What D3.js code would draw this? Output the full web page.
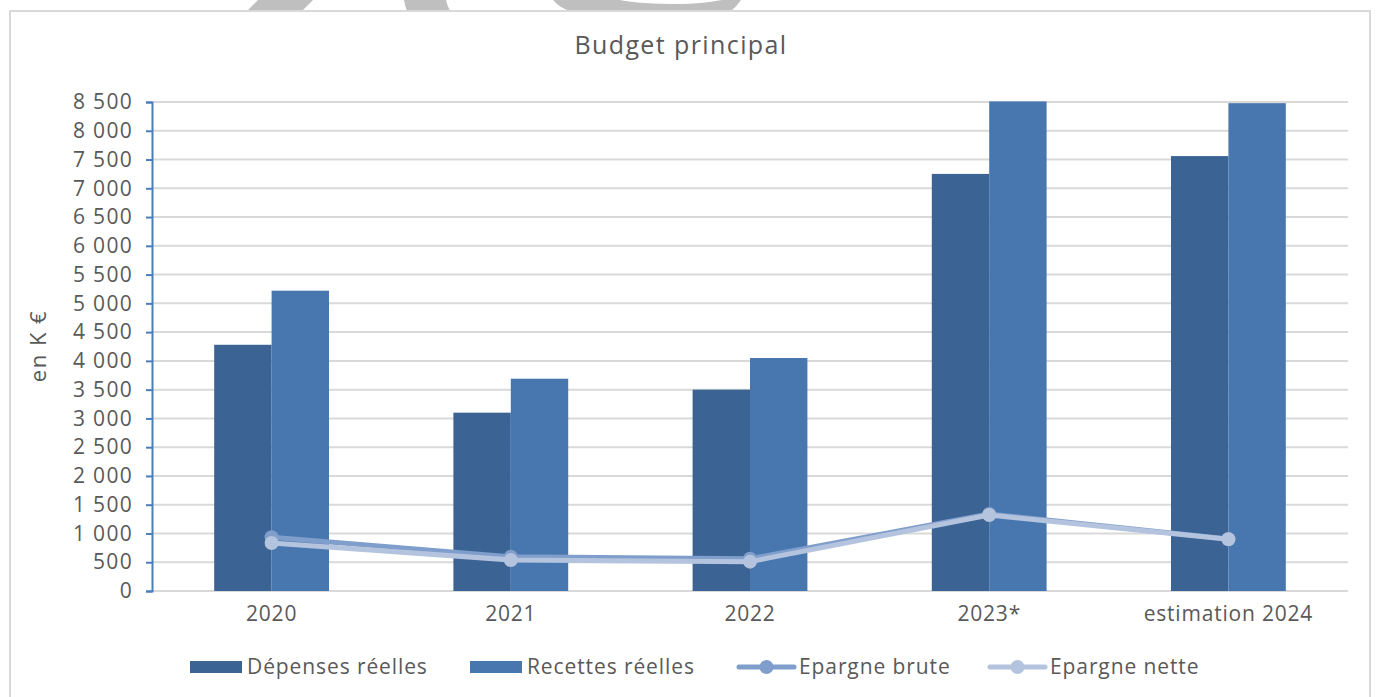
<!DOCTYPE html>
<html>
<head>
<meta charset="utf-8">
<script src="https://cdn.jsdelivr.net/npm/d3@7"></script>
<style>
  body { margin: 0; background: #fff; }
  svg { display: block; font-family: "Open Sans", sans-serif; }
</style>
</head>
<body>
<script>
  // chart data
  var categories = ['2020', '2021', '2022', '2023*', 'estimation 2024'];
  var depenses = [4280, 3100, 3500, 7250, 7560];
  var recettes = [5220, 3690, 4050, 8510, 8480];
  var epargneBrute = [935, 595, 560, 1340, 905];
  var epargneNette = [835, 540, 510, 1320, 900];
  var yTicks = d3.range(0, 8501, 500);

  var barSeries = [
    { name: 'Dépenses réelles', values: depenses, color: '#3b6495' },
    { name: 'Recettes réelles', values: recettes, color: '#4877af' }
  ];
  var lineSeries = [
    { name: 'Epargne brute', values: epargneBrute, color: '#7f9ecb' },
    { name: 'Epargne nette', values: epargneNette, color: '#b4c3de' }
  ];

  function translate(x, y) {
    return 'translate(' + x + ',' + y + ')';
  }

  var W = 1376, H = 697,
      plotLeft = 152, plotRight = 1348, plotTop = 102, plotBottom = 591;

  var fr = d3.formatLocale({ decimal: ',', thousands: ' ', grouping: [3], currency: ['', '€'] });

  var x = d3.scaleBand()
      .domain(categories)
      .range([plotLeft, plotRight])
      .paddingInner(0.52)
      .paddingOuter(0.26);

  var xSub = d3.scaleBand()
      .domain([0, 1])
      .range([0, x.bandwidth()]);

  var y = d3.scaleLinear()
      .domain([0, 8500])
      .range([plotBottom, plotTop]);

  var svg = d3.select('body').append('svg')
      .attr('width', W)
      .attr('height', H);

  // watermark fragments peeking above the frame
  var wm = svg.append('g').attr('fill', '#bfbfbf');
  wm.append('path').attr('d', 'M247,11 L302,11 L313,0 L258,0 Z');
  wm.append('path').attr('d', 'M407,11 L450,11 Q447,5 446,0 L404,0 Q405,6 407,11 Z');
  wm.append('path').attr('d', 'M553,0 Q560,8 570,11 L731,11 Q737,6 741,0 L722,0 Q700,4 680,4 Q640,4 620,0 Z');

  // frame
  svg.append('rect')
    .attr('x', 10).attr('y', 11)
    .attr('width', 1360).attr('height', 700)
    .attr('fill', '#fff')
    .attr('stroke', '#d9d9d9')
    .attr('stroke-width', 2);

  svg.append('text')
    .attr('x', 681).attr('y', 54)
    .attr('text-anchor', 'middle')
    .attr('font-size', 25)
    .attr('letter-spacing', 1.4)
    .attr('fill', '#595959')
    .text('Budget principal');

  // gridlines
  svg.append('g')
    .selectAll('line')
    .data(yTicks)
    .join('line')
      .attr('x1', plotLeft).attr('x2', plotRight)
      .attr('y1', function(d) { return y(d); })
      .attr('y2', function(d) { return y(d); })
      .attr('stroke', '#d9d9d9')
      .attr('stroke-width', 2);

  // y axis
  var yAxis = d3.axisLeft(y)
      .tickValues(yTicks)
      .tickFormat(fr.format(',d'))
      .tickSize(6)
      .tickPadding(13);

  var gy = svg.append('g')
    .attr('transform', translate(plotLeft, 0))
    .call(yAxis);
  gy.select('.domain').attr('stroke', '#4a7ebb').attr('stroke-width', 2);
  gy.selectAll('.tick line').attr('stroke', '#4a7ebb').attr('stroke-width', 2);
  gy.selectAll('.tick text')
    .attr('font-size', 21)
    .attr('letter-spacing', 1.3)
    .attr('fill', '#595959')
    .attr('font-family', '"Open Sans", sans-serif');

  svg.append('text')
    .attr('transform', translate(46, 346) + ' rotate(-90)')
    .attr('text-anchor', 'middle')
    .attr('font-size', 22)
    .attr('letter-spacing', 1.5)
    .attr('fill', '#595959')
    .text('en K €');

  // bars
  barSeries.forEach(function(s, si) {
    svg.append('g')
      .selectAll('rect')
      .data(s.values)
      .join('rect')
        .attr('x', function(d, i) { return x(categories[i]) + xSub(si); })
        .attr('y', function(d) { return y(d); })
        .attr('width', xSub.bandwidth())
        .attr('height', function(d) { return y(0) - y(d); })
        .attr('fill', s.color);
  });

  // x labels
  var xAxis = d3.axisBottom(x).tickSize(0).tickPadding(15);
  var gx = svg.append('g')
    .attr('transform', translate(0, plotBottom))
    .call(xAxis);
  gx.select('.domain').remove();
  gx.selectAll('.tick text')
    .attr('font-size', 21)
    .attr('letter-spacing', 0.8)
    .attr('fill', '#595959')
    .attr('font-family', '"Open Sans", sans-serif');

  // lines
  var line = d3.line()
      .x(function(d, i) { return x(categories[i]) + x.bandwidth() / 2; })
      .y(function(d) { return y(d); });

  lineSeries.forEach(function(s) {
    var g = svg.append('g');
    g.append('path')
      .datum(s.values)
      .attr('d', line)
      .attr('fill', 'none')
      .attr('stroke', s.color)
      .attr('stroke-width', 5)
      .attr('stroke-linejoin', 'round');
    g.selectAll('circle')
      .data(s.values)
      .join('circle')
        .attr('cx', function(d, i) { return x(categories[i]) + x.bandwidth() / 2; })
        .attr('cy', function(d) { return y(d); })
        .attr('r', 7)
        .attr('fill', s.color);
  });

  // legend
  var legendItems = [
    { s: barSeries[0], type: 'bar', x: 190 },
    { s: barSeries[1], type: 'bar', x: 470 },
    { s: lineSeries[0], type: 'line', x: 739 },
    { s: lineSeries[1], type: 'line', x: 990 }
  ];
  var lg = svg.append('g').attr('transform', translate(0, 667));
  legendItems.forEach(function(it) {
    var g = lg.append('g').attr('transform', translate(it.x, 0));
    if (it.type === 'bar') {
      g.append('rect')
        .attr('x', 0).attr('y', -6)
        .attr('width', 52).attr('height', 12)
        .attr('fill', it.s.color);
    } else {
      g.append('line')
        .attr('x1', 0).attr('x2', 55)
        .attr('stroke', it.s.color)
        .attr('stroke-width', 5)
        .attr('stroke-linecap', 'round');
      g.append('circle')
        .attr('cx', 27.5).attr('r', 7)
        .attr('fill', it.s.color);
    }
    g.append('text')
      .attr('x', it.type === 'bar' ? 57 : 60)
      .attr('dy', '0.35em')
      .attr('font-size', 21)
      .attr('letter-spacing', 0.9)
      .attr('fill', '#595959')
      .text(it.s.name);
  });
</script>
</body>
</html>
